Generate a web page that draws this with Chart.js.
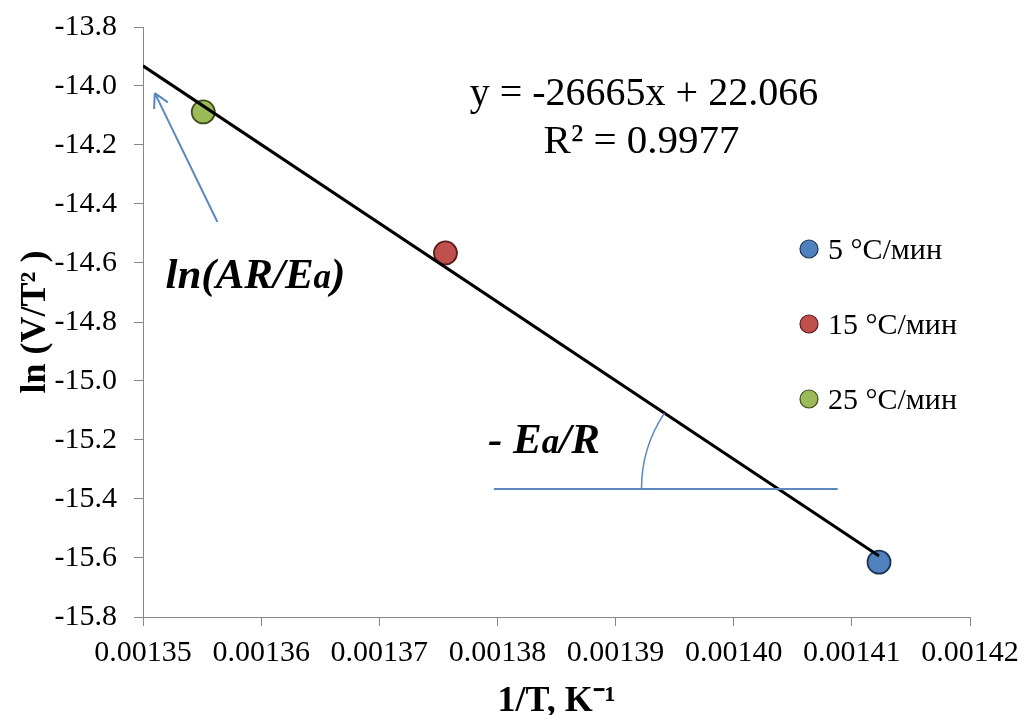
<!DOCTYPE html>
<html>
<head>
<meta charset="utf-8">
<script src="https://cdn.jsdelivr.net/npm/chart.js@4.4.1/dist/chart.umd.min.js"></script>
<style>
    html, body { margin: 0; padding: 0; background: #fff; }
    #wrap { width: 1023px; height: 715px; position: relative; }
</style>
</head>
<body>
<div id="wrap"><canvas id="arrheniusChart"></canvas></div>
<script>
// ===========================
// DATA
// ===========================

const seriesLabels = ['5 °C/мин', '15 °C/мин', '25 °C/мин'];
const invT = [0.0014123, 0.0013756, 0.0013551];     // 1/T, K^-1
const lnVT2 = [-15.614, -14.566, -14.088];          // ln(V/T^2)
const seriesColors = ['#4f81bd', '#c0504d', '#9bbb59'];
const seriesBorders = ['#1d3557', '#5a1c1a', '#3d4d1c'];

// linear trendline as printed on the chart
const trendSlope = -26665;
const trendIntercept = 22.066;
const trendText = ['y = -26665x + 22.066', 'R² = 0.9977'];

// axis ranges
const xMin = 0.00135, xMax = 0.00142, xStep = 0.00001;
const yMin = -15.8, yMax = -13.8, yStep = 0.2;

const xTitle = '1/T, K⁻¹';
const yTitle = 'ln (V/T² )';

const SERIF = '"Liberation Serif", "Times New Roman", serif';
const ANNO_BLUE = '#5b88bf';

// ===========================
// TRENDLINE ENDPOINTS
// ===========================

const trendX = [xMin, Math.max(...invT)];
const trendPoints = trendX.map(x => ({ x: x, y: trendSlope * x + trendIntercept }));

/**
 * Draw text made of parts with different fonts, e.g. "E" + smaller "a"
 */
function drawParts(ctx, parts, x, y) {
    let cx = x;
    parts.forEach(p => {
        ctx.font = p.font;
        ctx.fillText(p.text, cx, y);
        cx += ctx.measureText(p.text).width;
    });
}

// ===========================
// ANNOTATIONS + LEGEND PLUGIN
// ===========================

const annotationPlugin = {
    id: 'annotations',
    afterDatasetsDraw(chart) {
        const ctx = chart.ctx;
        const xs = chart.scales.x;
        const ys = chart.scales.y;
        const px = v => xs.getPixelForValue(v);
        const py = v => ys.getPixelForValue(v);

        ctx.save();
        ctx.fillStyle = '#000';
        ctx.textBaseline = 'alphabetic';

        // equation + R²
        ctx.font = '40px ' + SERIF;
        ctx.textAlign = 'center';
        ctx.fillText(trendText[0], px(0.0013924), py(-14.064));
        ctx.font = '41px ' + SERIF;
        ctx.fillText(trendText[1], px(0.0013922), py(-14.227));

        // ln(AR/Ea)
        ctx.textAlign = 'left';
        const bi = 'italic bold 43px ' + SERIF;
        const biSmall = 'italic bold 35px ' + SERIF;
        drawParts(ctx, [
            { text: 'ln(AR/E', font: bi },
            { text: 'a', font: biSmall },
            { text: ')', font: bi }
        ], px(0.0013519), py(-14.685));

        // - Ea/R
        drawParts(ctx, [
            { text: '- E', font: bi },
            { text: 'a', font: biSmall },
            { text: '/R', font: bi }
        ], px(0.0013792), py(-15.244));

        // arrow pointing at intercept
        ctx.strokeStyle = ANNO_BLUE;
        ctx.lineWidth = 2;
        const ax0 = px(0.0013563), ay0 = py(-14.461);
        const ax1 = px(0.0013510), ay1 = py(-14.024);
        ctx.beginPath();
        ctx.moveTo(ax0, ay0);
        ctx.lineTo(ax1, ay1);
        const ang = Math.atan2(ay1 - ay0, ax1 - ax0);
        const head = 16;
        [-0.5, 0.5].forEach(d => {
            ctx.moveTo(ax1, ay1);
            ctx.lineTo(ax1 - head * Math.cos(ang + d), ay1 - head * Math.sin(ang + d));
        });
        ctx.stroke();

        // horizontal reference line
        const hy = -15.366;
        ctx.beginPath();
        ctx.moveTo(px(0.0013797), py(hy));
        ctx.lineTo(px(0.0014088), py(hy));
        ctx.stroke();

        // angle arc between horizontal line and trendline
        const cx = px((hy - trendIntercept) / trendSlope);
        const cy = py(hy);
        const theta = Math.atan2(py(trendPoints[1].y) - py(trendPoints[0].y),
                                 px(trendPoints[1].x) - px(trendPoints[0].x));
        ctx.lineWidth = 1.5;
        ctx.beginPath();
        ctx.arc(cx, cy, 137, Math.PI, Math.PI + theta);
        ctx.stroke();

        // legend
        ctx.font = '30px ' + SERIF;
        ctx.textBaseline = 'middle';
        seriesLabels.forEach((label, i) => {
            const ly = 249 + i * 75;
            ctx.beginPath();
            ctx.arc(809, ly, 9, 0, Math.PI * 2);
            ctx.fillStyle = seriesColors[i];
            ctx.fill();
            ctx.lineWidth = 1.2;
            ctx.strokeStyle = seriesBorders[i];
            ctx.stroke();
            ctx.fillStyle = '#000';
            ctx.fillText(label, 828, ly + 2);
        });

        ctx.restore();
    }
};

// ===========================
// CHART
// ===========================

const pointSets = seriesLabels.map((label, i) => ({
    type: 'scatter',
    label: label,
    data: [{ x: invT[i], y: lnVT2[i] }],
    backgroundColor: seriesColors[i],
    borderColor: seriesBorders[i],
    borderWidth: 1.8,
    pointRadius: 11.5,
    order: 2
}));

const trendSet = {
    type: 'line',
    label: 'trend',
    data: trendPoints,
    borderColor: '#000',
    borderWidth: 3,
    pointRadius: 0,
    fill: false,
    order: 1
};

new Chart(document.getElementById('arrheniusChart'), {
    data: { datasets: pointSets.concat([trendSet]) },
    options: {
        responsive: true,
        maintainAspectRatio: false,
        animation: false,
        layout: { padding: { top: 27, right: 53, left: 0, bottom: 0 } },
        plugins: {
            legend: { display: false },
            tooltip: { enabled: false }
        },
        scales: {
            x: {
                type: 'linear',
                min: xMin,
                max: xMax,
                afterFit: scale => {
                    scale.height = 98;
                    scale.paddingLeft = 0;
                    scale.paddingRight = 0;
                },
                border: { color: '#868686', width: 1 },
                grid: { drawOnChartArea: false, tickLength: 9, color: '#868686' },
                ticks: {
                    stepSize: xStep,
                    padding: 9,
                    color: '#000',
                    maxRotation: 0,
                    autoSkip: false,
                    font: { family: SERIF, size: 30 },
                    callback: v => v.toFixed(5)
                },
                title: {
                    display: true,
                    text: xTitle,
                    color: '#000',
                    font: { family: SERIF, size: 36, weight: 'bold', lineHeight: 0.75 },
                    padding: { top: 0, bottom: 0 }
                }
            },
            y: {
                type: 'linear',
                min: yMin,
                max: yMax,
                afterFit: scale => {
                    scale.width = 143;
                    scale.paddingTop = 0;
                    scale.paddingBottom = 0;
                },
                border: { color: '#868686', width: 1 },
                grid: { drawOnChartArea: false, tickLength: 9, color: '#868686' },
                ticks: {
                    stepSize: yStep,
                    padding: 17,
                    color: '#000',
                    font: { family: SERIF, size: 30 },
                    callback: v => v.toFixed(1)
                },
                title: {
                    display: true,
                    text: yTitle,
                    color: '#000',
                    font: { family: SERIF, size: 36, weight: 'bold', lineHeight: 1 },
                    padding: { top: 18, bottom: 0 }
                }
            }
        }
    },
    plugins: [annotationPlugin]
});
</script>
</body>
</html>
